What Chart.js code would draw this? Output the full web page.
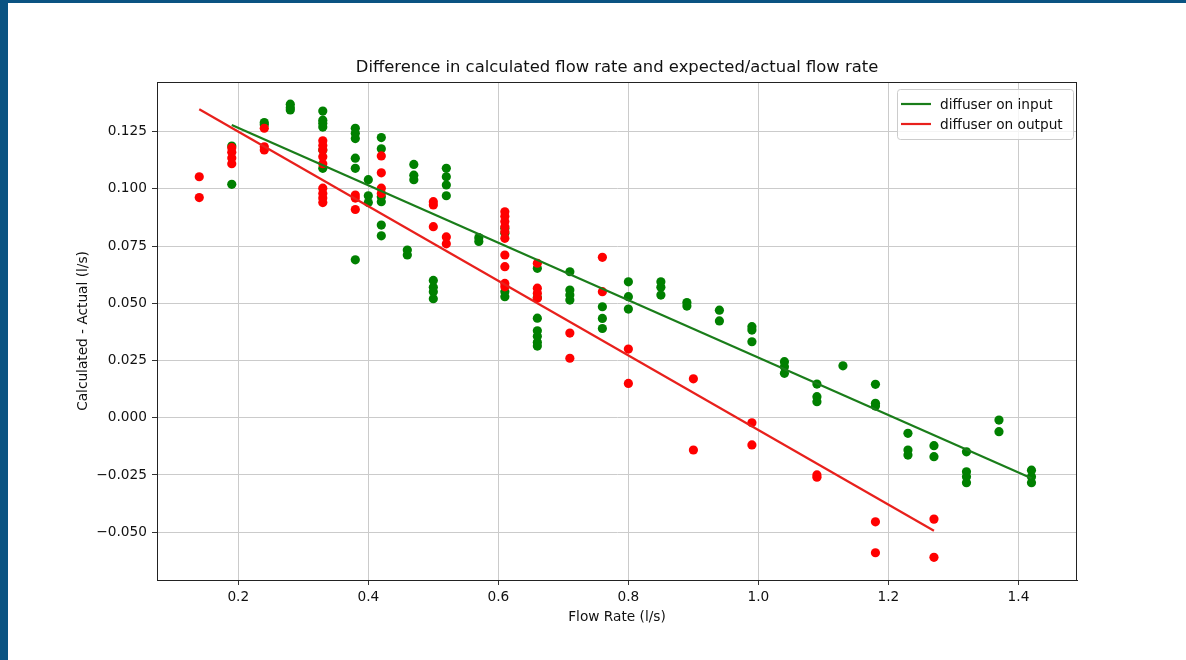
<!DOCTYPE html>
<html>
<head>
<meta charset="utf-8">
<title>Flow rate difference</title>
<script src="https://cdn.jsdelivr.net/npm/chart.js@4.4.1/dist/chart.umd.min.js"></script>
<style>
    body { margin: 0; background: #fff; }
    #wrap { position: relative; width: 1186px; height: 660px; }
    #chart { position: absolute; left: 0; top: 0; }
    .bar { position: absolute; background: #0a5382; }
</style>
</head>
<body>
<div id="wrap">
    <canvas id="chart" width="1186" height="660"></canvas>
    <div class="bar" style="left:0;top:0;width:8px;height:660px"></div>
    <div class="bar" style="left:0;top:0;width:1186px;height:3px"></div>
</div>
<script>
// diffuser on input (green points)
const inputX = [
    0.19, 0.19,
    0.24, 0.24,
    0.28, 0.28, 0.28,
    0.33, 0.33, 0.33, 0.33, 0.33, 0.33,
    0.38, 0.38, 0.38, 0.38, 0.38, 0.38,
    0.40, 0.40, 0.40,
    0.42, 0.42, 0.42, 0.42, 0.42, 0.42,
    0.46, 0.46,
    0.47, 0.47, 0.47,
    0.50, 0.50, 0.50, 0.50,
    0.52, 0.52, 0.52, 0.52,
    0.57, 0.57,
    0.61, 0.61, 0.61, 0.61,
    0.66, 0.66, 0.66, 0.66, 0.66, 0.66, 0.66,
    0.71, 0.71, 0.71, 0.71,
    0.76, 0.76, 0.76,
    0.80, 0.80, 0.80,
    0.85, 0.85, 0.85,
    0.89, 0.89,
    0.94, 0.94,
    0.99, 0.99, 0.99,
    1.04, 1.04, 1.04,
    1.09, 1.09, 1.09,
    1.13,
    1.18, 1.18, 1.18,
    1.23, 1.23, 1.23,
    1.27, 1.27,
    1.32, 1.32, 1.32, 1.32,
    1.37, 1.37,
    1.42, 1.42, 1.42
];
const inputY = [
    0.1187, 0.102,
    0.129, 0.128,
    0.137, 0.1355, 0.1345,
    0.134, 0.130, 0.1287, 0.127, 0.117, 0.109,
    0.1265, 0.1243, 0.122, 0.1134, 0.109, 0.069,
    0.104, 0.097, 0.094,
    0.1224, 0.1175, 0.0966, 0.0944, 0.0842, 0.0795,
    0.0733, 0.0711,
    0.1107, 0.106, 0.104,
    0.060, 0.057, 0.055, 0.052,
    0.109, 0.1053, 0.1017, 0.097,
    0.0787, 0.077,
    0.0828, 0.0806, 0.055, 0.0529,
    0.0653, 0.0525, 0.0435, 0.038, 0.0356, 0.033, 0.0313,
    0.0638, 0.0558, 0.0536, 0.0514,
    0.0485, 0.0434, 0.039,
    0.0594, 0.0529, 0.0475,
    0.0594, 0.057, 0.0536,
    0.0503, 0.0488,
    0.047, 0.0423,
    0.0398, 0.0383, 0.0332,
    0.0245, 0.0223, 0.0194,
    0.0147, 0.0092, 0.007,
    0.0227,
    0.0146, 0.0063, 0.0051,
    -0.0068, -0.0141, -0.0163,
    -0.0122, -0.017,
    -0.0149, -0.0236, -0.0258, -0.0284,
    -0.001, -0.0061,
    -0.0229, -0.0258, -0.0284
];

// diffuser on output (red points)
const outputX = [
    0.14, 0.14,
    0.19, 0.19, 0.19, 0.19,
    0.24, 0.24, 0.24,
    0.33, 0.33, 0.33, 0.33, 0.33, 0.33, 0.33, 0.33, 0.33,
    0.38, 0.38, 0.38,
    0.42, 0.42, 0.42, 0.42,
    0.50, 0.50, 0.50,
    0.52, 0.52,
    0.61, 0.61, 0.61, 0.61, 0.61, 0.61, 0.61, 0.61, 0.61, 0.61,
    0.66, 0.66, 0.66, 0.66,
    0.71, 0.71,
    0.76, 0.76,
    0.80, 0.80,
    0.90, 0.90,
    0.99, 0.99,
    1.09, 1.09,
    1.18, 1.18,
    1.27, 1.27
];
const outputY = [
    0.1053, 0.0962,
    0.118, 0.116, 0.1135, 0.111,
    0.1265, 0.1184, 0.117,
    0.121, 0.119, 0.117, 0.114, 0.111, 0.1003, 0.098, 0.096, 0.094,
    0.0973, 0.096, 0.091,
    0.1144, 0.107, 0.1003, 0.098,
    0.0944, 0.093, 0.0835,
    0.079, 0.076,
    0.090, 0.088, 0.0857, 0.0835, 0.0813, 0.0784, 0.0711, 0.066, 0.0587, 0.0572,
    0.0675, 0.0566, 0.0544, 0.0522,
    0.037, 0.026,
    0.0701, 0.0551,
    0.030, 0.015,
    0.017, -0.0141,
    -0.0022, -0.0119,
    -0.025, -0.026,
    -0.0455, -0.059,
    -0.0443, -0.061
];

// fitted lines (end points)
const inputFitX = [0.19, 1.42];
const inputFitY = [0.1279, -0.0264];
const outputFitX = [0.14, 1.27];
const outputFitY = [0.1348, -0.0494];

const xTicks = [0.2, 0.4, 0.6, 0.8, 1.0, 1.2, 1.4];
const yTicks = [-0.05, -0.025, 0, 0.025, 0.05, 0.075, 0.1, 0.125];

const titleText = 'Difference in calculated flow rate and expected/actual flow rate';
const FONT = 'DejaVu Sans';

function toPoints(xs, ys) {
    return xs.map((x, i) => ({ x: x, y: ys[i] }));
}

// title centred over the plot + top/right frame
const framePlugin = {
    id: 'frame',
    afterDraw(chart) {
        const { ctx, chartArea: a } = chart;
        ctx.save();
        ctx.strokeStyle = '#222';
        ctx.lineWidth = 1;
        ctx.strokeRect(a.left + 0.5, a.top + 0.5, a.right - a.left - 1, a.bottom - a.top);
        ctx.fillStyle = '#111';
        ctx.font = '16.4px "' + FONT + '"';
        ctx.textAlign = 'center';
        ctx.textBaseline = 'middle';
        ctx.fillText(titleText, (a.left + a.right) / 2, 67.5);
        ctx.restore();
    }
};

// matplotlib style legend inside the upper right corner
const boxLegend = {
    id: 'boxLegend',
    afterDraw(chart) {
        const { ctx, chartArea: a } = chart;
        const items = chart.data.datasets.filter(d => d.showLine);
        items.sort((p, q) => p.legendIndex - q.legendIndex);
        const w = 176, h = 50;
        const x = a.right - 4 - w, y = a.top + 7;
        ctx.save();
        ctx.fillStyle = 'rgba(255,255,255,0.8)';
        ctx.strokeStyle = '#cccccc';
        ctx.lineWidth = 1;
        ctx.beginPath();
        ctx.roundRect(x + 0.5, y + 0.5, w, h, 3);
        ctx.fill();
        ctx.stroke();
        ctx.font = '13.7px "' + FONT + '"';
        ctx.textBaseline = 'middle';
        items.forEach((d, i) => {
            const cy = y + 15 + i * 20;
            ctx.strokeStyle = d.borderColor;
            ctx.lineWidth = 2.2;
            ctx.beginPath();
            ctx.moveTo(x + 4, cy);
            ctx.lineTo(x + 34, cy);
            ctx.stroke();
            ctx.fillStyle = '#111';
            ctx.fillText(d.label, x + 43, cy + 1);
        });
        ctx.restore();
    }
};

const tickFont = { family: FONT, size: 13.7 };

new Chart(document.getElementById('chart'), {
    type: 'scatter',
    data: {
        datasets: [
            {
                label: 'diffuser on output',
                data: toPoints(outputFitX, outputFitY),
                showLine: true,
                borderColor: '#e8201c',
                borderWidth: 2.2,
                pointRadius: 0,
                legendIndex: 1,
                order: 0
            },
            {
                label: 'diffuser on input',
                data: toPoints(inputFitX, inputFitY),
                showLine: true,
                borderColor: '#1a7d1a',
                borderWidth: 2.2,
                pointRadius: 0,
                legendIndex: 0,
                order: 1
            },
            {
                label: 'output points',
                data: toPoints(outputX, outputY),
                backgroundColor: '#ff0000',
                borderWidth: 0,
                pointRadius: 4.6,
                order: 2
            },
            {
                label: 'input points',
                data: toPoints(inputX, inputY),
                backgroundColor: '#008000',
                borderWidth: 0,
                pointRadius: 4.6,
                order: 3
            }
        ]
    },
    options: {
        responsive: false,
        animation: false,
        layout: { padding: { left: 0, right: 109, top: 82, bottom: 0 } },
        plugins: {
            legend: { display: false },
            tooltip: { enabled: false },
            title: { display: false }
        },
        scales: {
            x: {
                type: 'linear',
                min: 0.075,
                max: 1.49,
                afterBuildTicks: s => { s.ticks = xTicks.map(v => ({ value: v })); },
                afterFit: s => { s.height = 80; },
                ticks: {
                    callback: v => v.toFixed(1),
                    font: tickFont,
                    color: '#111',
                    padding: 4,
                    maxRotation: 0,
                    autoSkip: false
                },
                grid: { color: '#cbcbcb', lineWidth: 1, tickLength: 5, tickColor: '#333', drawTicks: true },
                border: { color: '#222', width: 1 },
                title: {
                    display: true,
                    text: 'Flow Rate (l/s)',
                    font: tickFont,
                    color: '#111',
                    padding: { top: 0, bottom: 34 }
                }
            },
            y: {
                type: 'linear',
                min: -0.0709,
                max: 0.1467,
                afterBuildTicks: s => { s.ticks = yTicks.map(v => ({ value: v })); },
                afterFit: s => { s.width = 157; },
                ticks: {
                    callback: v => v.toFixed(3).replace('-', '\u2212'),
                    font: tickFont,
                    color: '#111',
                    padding: 5,
                    autoSkip: false
                },
                grid: { color: '#cbcbcb', lineWidth: 1, tickLength: 5, tickColor: '#333', drawTicks: true },
                border: { color: '#222', width: 1 },
                title: {
                    display: true,
                    text: 'Calculated - Actual (l/s)',
                    font: tickFont,
                    color: '#111',
                    padding: { top: 75, bottom: 0 }
                }
            }
        }
    },
    plugins: [framePlugin, boxLegend]
});
</script>
</body>
</html>
